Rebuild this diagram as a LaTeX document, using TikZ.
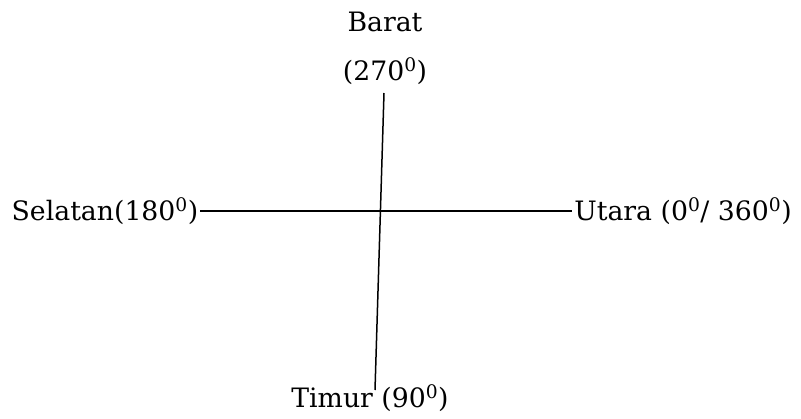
\documentclass[tikz,border=0pt]{standalone}
\usepackage{fontspec}
\setmainfont{DejaVu Serif}
\usepackage{tikz}
\usetikzlibrary{positioning}

\begin{document}
\begin{tikzpicture}[
  x=1pt, y=-1pt,
  every node/.style={font=\fontsize{26.7}{32}\selectfont},
  arah/.style={inner sep=2pt, anchor=center},
  garis/.style={line width=1.5pt, black},
]
\useasboundingbox (0,0) rectangle (801,418);

% Arah mata angin
\node[arah] (barat)   at (385,22)  {Barat};
\node[arah] (baratd)  at (385,71)  {(270\textsuperscript{0})};
\node[arah] (selatan) at (105,211) {Selatan(180\textsuperscript{0})};
\node[arah] (utara)   at (683,211) {Utara (0\textsuperscript{0}/ 360\textsuperscript{0})};
\node[arah] (timur)   at (370,398) {Timur (90\textsuperscript{0})};

% Ujung garis tegak
\coordinate (atas)  at (384,93);
\coordinate (bawah) at (375,390);

% Garis
\draw[garis] (selatan) -- (utara);
\draw[garis] (atas) -- (bawah);

\end{tikzpicture}
\end{document}
